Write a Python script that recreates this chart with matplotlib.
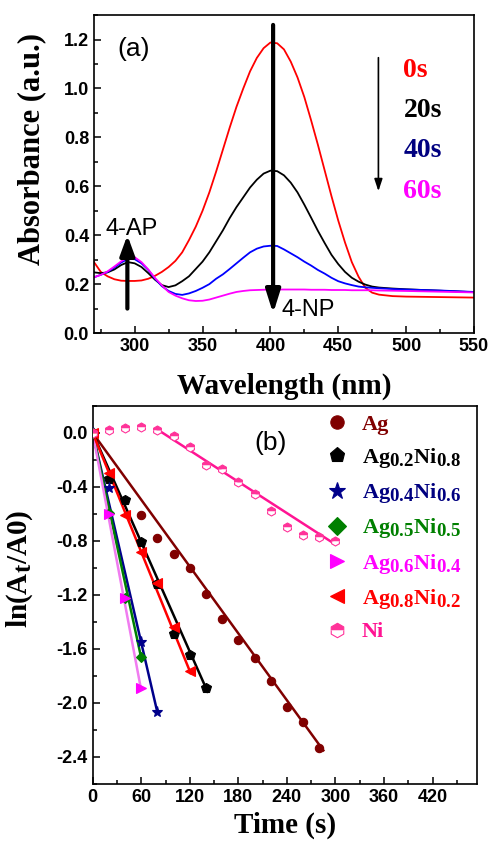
import matplotlib
matplotlib.use("Agg")
import matplotlib.pyplot as plt
import matplotlib._mathtext as mathtext_impl
from matplotlib.lines import Line2D
from matplotlib.ticker import MultipleLocator, FormatStrFormatter

plt.rcParams["axes.unicode_minus"] = False
plt.rcParams["mathtext.fontset"] = "custom"
plt.rcParams["mathtext.rm"] = "Liberation Serif:bold"
plt.rcParams["mathtext.bf"] = "Liberation Serif:bold"
plt.rcParams["mathtext.it"] = "Liberation Serif:bold"
plt.rcParams["mathtext.default"] = "rm"
# the original uses near full-size subscripts
mathtext_impl.SHRINK_FACTOR = 0.85

SANS = "Liberation Sans"
SERIF = "Liberation Serif"

# ---- panel (a): UV-vis spectra ----
wavelength = [270, 275, 280, 285, 290, 295, 300, 305, 310, 315, 320, 325, 330, 335,
              340, 345, 350, 355, 360, 365, 370, 375, 380, 385, 390, 395, 400, 405,
              410, 415, 420, 425, 430, 435, 440, 445, 450, 455, 460, 465, 470, 475,
              480, 490, 500, 525, 550]
abs_0s = [0.29, 0.25, 0.232, 0.22, 0.214, 0.213, 0.213, 0.215, 0.222, 0.234, 0.25, 0.27,
          0.295, 0.33, 0.38, 0.435, 0.50, 0.575, 0.66, 0.75, 0.84, 0.925, 1.0, 1.07,
          1.125, 1.165, 1.188, 1.185, 1.16, 1.11, 1.045, 0.965, 0.87, 0.77, 0.665, 0.56,
          0.46, 0.37, 0.29, 0.23, 0.185, 0.165, 0.157, 0.151, 0.149, 0.147, 0.145]
abs_20s = [0.248, 0.245, 0.248, 0.26, 0.278, 0.29, 0.285, 0.27, 0.245, 0.218, 0.196, 0.188,
           0.195, 0.212, 0.232, 0.262, 0.292, 0.33, 0.375, 0.42, 0.47, 0.515, 0.555, 0.595,
           0.627, 0.652, 0.664, 0.662, 0.645, 0.615, 0.575, 0.525, 0.472, 0.418, 0.368, 0.32,
           0.282, 0.25, 0.226, 0.21, 0.198, 0.19, 0.186, 0.182, 0.179, 0.173, 0.167]
abs_40s = [0.228, 0.238, 0.25, 0.268, 0.288, 0.303, 0.302, 0.285, 0.258, 0.222, 0.192, 0.172,
           0.16, 0.156, 0.162, 0.172, 0.185, 0.2, 0.222, 0.24, 0.262, 0.285, 0.308, 0.33,
           0.345, 0.354, 0.357, 0.356, 0.342, 0.326, 0.31, 0.292, 0.276, 0.258, 0.243, 0.226,
           0.212, 0.203, 0.196, 0.19, 0.187, 0.185, 0.183, 0.18, 0.178, 0.174, 0.168]
abs_60s = [0.228, 0.238, 0.252, 0.272, 0.293, 0.31, 0.31, 0.29, 0.26, 0.225, 0.195, 0.168,
           0.153, 0.142, 0.134, 0.131, 0.132, 0.137, 0.145, 0.153, 0.161, 0.168, 0.172, 0.175,
           0.176, 0.177, 0.178, 0.178, 0.178, 0.178, 0.178, 0.178, 0.177, 0.177, 0.177, 0.176,
           0.176, 0.176, 0.175, 0.175, 0.175, 0.175, 0.174, 0.173, 0.172, 0.169, 0.166]
spec_labels = ["0s", "20s", "40s", "60s"]
spec_colors = ["#ff0000", "#000000", "#0000ff", "#ff00ff"]
label_colors = ["#ff0000", "#000000", "#000080", "#ff00ff"]

# ---- panel (b): kinetics ----
t_ag = [0, 60, 80, 100, 120, 140, 160, 180, 200, 220, 240, 260, 280]
ln_ag = [0, -0.61, -0.78, -0.90, -1.00, -1.19, -1.38, -1.53, -1.67, -1.84, -2.03, -2.14, -2.33]
t_ag2 = [0, 20, 40, 60, 80, 100, 120, 140]
ln_ag2 = [0, -0.34, -0.50, -0.81, -1.12, -1.49, -1.645, -1.89]
t_ag4 = [0, 20, 60, 80]
ln_ag4 = [0, -0.41, -1.55, -2.07]
t_ag5 = [0, 20, 40, 60]
ln_ag5 = [0, -0.59, -1.22, -1.66]
t_ag6 = [0, 20, 40, 60]
ln_ag6 = [0, -0.60, -1.22, -1.89]
t_ag8 = [0, 20, 40, 60, 80, 100, 120]
ln_ag8 = [0, -0.30, -0.61, -0.88, -1.11, -1.44, -1.76]
t_ni = [0, 20, 40, 60, 80, 100, 120, 140, 160, 180, 200, 220, 240, 260, 280, 300]
ln_ni = [0, 0.02, 0.037, 0.045, 0.025, -0.02, -0.106, -0.235, -0.27, -0.366, -0.45,
         -0.58, -0.70, -0.755, -0.767, -0.797]

# linear fits: slope, intercept, fit start, fit end
fit_slope = [-0.00825, -0.0135, -0.0259, -0.0278, -0.0318, -0.0147, -0.00387]
fit_icpt = [0, 0, 0, 0, 0, 0, 0.335]
fit_start = [0, 0, 0, 0, 0, 0, 80]
fit_end = [285, 142, 80, 60, 59, 121, 300]

kin_labels = ["Ag", r"Ag$_{0.2}$Ni$_{0.8}$", r"Ag$_{0.4}$Ni$_{0.6}$", r"Ag$_{0.5}$Ni$_{0.5}$",
              r"Ag$_{0.6}$Ni$_{0.4}$", r"Ag$_{0.8}$Ni$_{0.2}$", "Ni"]
kin_t = [t_ag, t_ag2, t_ag4, t_ag5, t_ag6, t_ag8, t_ni]
kin_y = [ln_ag, ln_ag2, ln_ag4, ln_ag5, ln_ag6, ln_ag8, ln_ni]
kin_markers = ["o", "p", "*", "D", ">", "<", "h"]
kin_colors = ["#800000", "#000000", "#00008b", "#008000", "#ff00ff", "#ff0000", "#ff3399"]
line_colors = ["#800000", "#000000", "#00008b", "#008000", "#f07cf0", "#ff0000", "#ff1493"]
text_colors = ["#800000", "#000000", "#000080", "#008000", "#ff00ff", "#ff0000", "#ff1493"]
marker_sizes = [6, 7, 8, 5.5, 6.5, 6.5, 6.5]

fig = plt.figure(figsize=(4.89, 8.41), dpi=100)
ax1 = fig.add_axes([0.1922, 0.604, 0.777, 0.378])
ax2 = fig.add_axes([0.1896, 0.0678, 0.786, 0.4495])

for ax in (ax1, ax2):
    for s in ax.spines.values():
        s.set_linewidth(1.2)
    ax.tick_params(which="both", direction="in", top=False, right=False, width=1.1)
    ax.tick_params(which="major", length=5)
    ax.tick_params(which="minor", length=3)

# panel (a)
for ys, c in zip([abs_0s, abs_20s, abs_40s, abs_60s], spec_colors):
    ax1.plot(wavelength, ys, color=c, lw=1.3)
ax1.set_xlim(270, 550)
ax1.set_ylim(0, 1.3)
ax1.xaxis.set_major_locator(MultipleLocator(50))
ax1.xaxis.set_minor_locator(MultipleLocator(25))
ax1.yaxis.set_major_locator(MultipleLocator(0.2))
ax1.yaxis.set_minor_locator(MultipleLocator(0.1))
ax1.yaxis.set_major_formatter(FormatStrFormatter("%.1f"))
for lab in ax1.get_xticklabels() + ax1.get_yticklabels():
    lab.set_fontfamily(SANS)
    lab.set_fontweight("bold")
    lab.set_fontsize(13)
ax1.set_xlabel("Wavelength (nm)", family=SERIF, weight="bold", fontsize=21, labelpad=13)
ax1.set_ylabel("Absorbance (a.u.)", family=SERIF, weight="bold", fontsize=22)
ax1.yaxis.set_label_coords(-0.125, 0.58)

ax1.annotate("", xy=(402, 0.08), xytext=(402, 1.26),
             arrowprops=dict(arrowstyle="-|>,head_length=0.7,head_width=0.22",
                             lw=3, color="black", mutation_scale=20, shrinkA=0, shrinkB=0))
ax1.annotate("", xy=(294.6, 0.40), xytext=(294.6, 0.10),
             arrowprops=dict(arrowstyle="-|>,head_length=0.6,head_width=0.22",
                             lw=3, color="black", mutation_scale=20, shrinkA=0, shrinkB=0))
ax1.annotate("", xy=(479.6, 0.58), xytext=(479.6, 1.126),
             arrowprops=dict(arrowstyle="-|>,head_length=0.6,head_width=0.2",
                             lw=1.2, color="black", mutation_scale=12, shrinkA=0, shrinkB=0))
ax1.text(287, 1.16, "(a)", family=SANS, fontsize=19, ha="left", va="center")
ax1.text(278.5, 0.425, "4-AP", family=SANS, fontsize=17, ha="left", va="center")
ax1.text(408, 0.095, "4-NP", family=SANS, fontsize=17, ha="left", va="center")
for i, (lab, c) in enumerate(zip(spec_labels, label_colors)):
    ax1.text(498, 1.075 - 0.165 * i, lab, family=SERIF, weight="bold", fontsize=20,
             color=c, ha="left", va="center")

# panel (b)
handles = []
for i in range(len(kin_labels)):
    c = kin_colors[i]
    t0, t1 = fit_start[i], fit_end[i]
    ax2.plot([t0, t1], [fit_icpt[i] + fit_slope[i] * t0, fit_icpt[i] + fit_slope[i] * t1],
             color=line_colors[i], lw=1.8, zorder=2)
    kw = dict(marker=kin_markers[i], ms=marker_sizes[i], ls="none", color=c,
              markeredgecolor=c, markeredgewidth=0.8)
    if kin_markers[i] == "h":
        kw.update(fillstyle="top", markerfacecoloralt="white", markerfacecolor=c)
    ax2.plot(kin_t[i], kin_y[i], zorder=3, **kw)
    handles.append(Line2D([], [], **kw))

ax2.set_xlim(0, 475)
ax2.set_ylim(-2.6, 0.2)
ax2.xaxis.set_major_locator(MultipleLocator(60))
ax2.xaxis.set_minor_locator(MultipleLocator(30))
ax2.yaxis.set_major_locator(MultipleLocator(0.4))
ax2.yaxis.set_minor_locator(MultipleLocator(0.2))
ax2.yaxis.set_major_formatter(FormatStrFormatter("%.1f"))
ax2.set_xticks([0, 60, 120, 180, 240, 300, 360, 420])
for lab in ax2.get_xticklabels() + ax2.get_yticklabels():
    lab.set_fontfamily(SANS)
    lab.set_fontweight("bold")
    lab.set_fontsize(13)
ax2.set_xlabel("Time (s)", family=SERIF, weight="bold", fontsize=21, labelpad=4)
ax2.set_ylabel(r"ln(A$_{t}$/A0)", family=SERIF, weight="bold", fontsize=21)
ax2.yaxis.set_label_coords(-0.15, 0.57)
ax2.text(220, -0.075, "(b)", family=SANS, fontsize=19, ha="center", va="center")

leg = ax2.legend(handles, kin_labels, loc="upper left", bbox_to_anchor=(0.555, 1.03),
                 frameon=False, markerscale=1.6, handlelength=1.0, handletextpad=0.6,
                 labelspacing=0.5, prop={"family": SERIF, "weight": "bold", "size": 16})
for txt, c in zip(leg.get_texts(), text_colors):
    txt.set_color(c)

fig.savefig("out.png", dpi=100)
